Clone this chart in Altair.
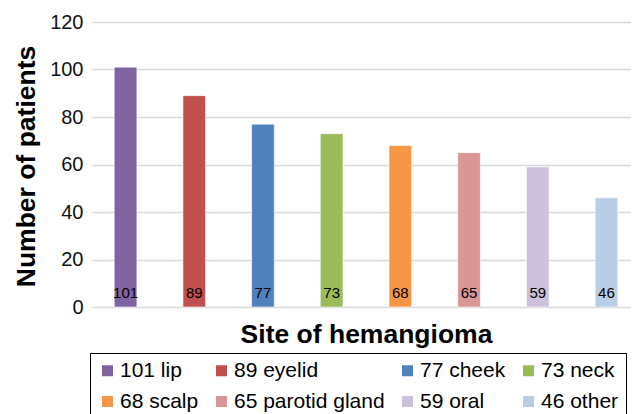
import altair as alt
import pandas as pd

sites = ["lip", "eyelid", "cheek", "neck", "scalp", "parotid gland", "oral", "other"]
counts = [101, 89, 77, 73, 68, 65, 59, 46]
colors = ["#8064A2", "#C0504D", "#4F81BD", "#9BBB59", "#F79646", "#D99694", "#CCC1DA", "#B9CDE5"]
y_ticks = [0, 20, 40, 60, 80, 100, 120]

labels = [f"{c} {s}" for c, s in zip(counts, sites)]
df = pd.DataFrame({"site": sites, "count": counts, "label": labels})

FONT = "Liberation Sans"
W, H = 539, 285

x = alt.X("site:N", sort=sites, title="Site of hemangioma",
          scale=alt.Scale(paddingInner=0.67, paddingOuter=0.258, align=0.627),
          axis=alt.Axis(labels=False, ticks=False, domain=False, titleFontSize=26.5,
                        titleFont=FONT, titleFontWeight="bold", titleColor="black",
                        titleX=274, titleY=35, titleBaseline="alphabetic", titleAlign="center"))

bars = alt.Chart(df).mark_bar(stroke="white", strokeWidth=0.6).encode(
    x=x,
    y=alt.Y("count:Q", title="Number of patients",
            scale=alt.Scale(domain=[0, 120]),
            axis=alt.Axis(values=y_ticks, ticks=False, domain=False, labelFontSize=20,
                          labelFont=FONT, labelColor="#111", labelPadding=9,
                          gridColor="#d9d9d9", gridWidth=1.4,
                          titleFontSize=26.5, titleFont=FONT, titleFontWeight="bold",
                          titleColor="black", titleX=-57.5, titleY=144,
                          titleAngle=-90, titleBaseline="alphabetic", titleAlign="center")),
    color=alt.Color("label:N", sort=labels,
                    scale=alt.Scale(domain=labels, range=colors),
                    legend=alt.Legend(title=None, orient="none", legendX=-2, legendY=331,
                                      direction="horizontal", columns=4,
                                      labelFont=FONT, labelFontSize=21, labelColor="black",
                                      symbolType="square", symbolSize=121,
                                      symbolStrokeWidth=0, rowPadding=9, columnPadding=12,
                                      strokeColor="black", padding=7, labelOffset=2)),
)

texts = alt.Chart(df).mark_text(font=FONT, fontSize=15, color="black", dy=-9,
                                baseline="alphabetic").encode(
    x=alt.X("site:N", sort=sites),
    y=alt.datum(0),
    text="count:Q",
)

chart = (bars + texts).properties(
    width=W, height=H,
    autosize=alt.AutoSizeParams(type="none"),
    padding={"left": 84, "top": 14, "right": 0, "bottom": 120},
).configure_view(stroke=None)

chart.save("out.html", embed_options={"renderer": "svg", "actions": False})
